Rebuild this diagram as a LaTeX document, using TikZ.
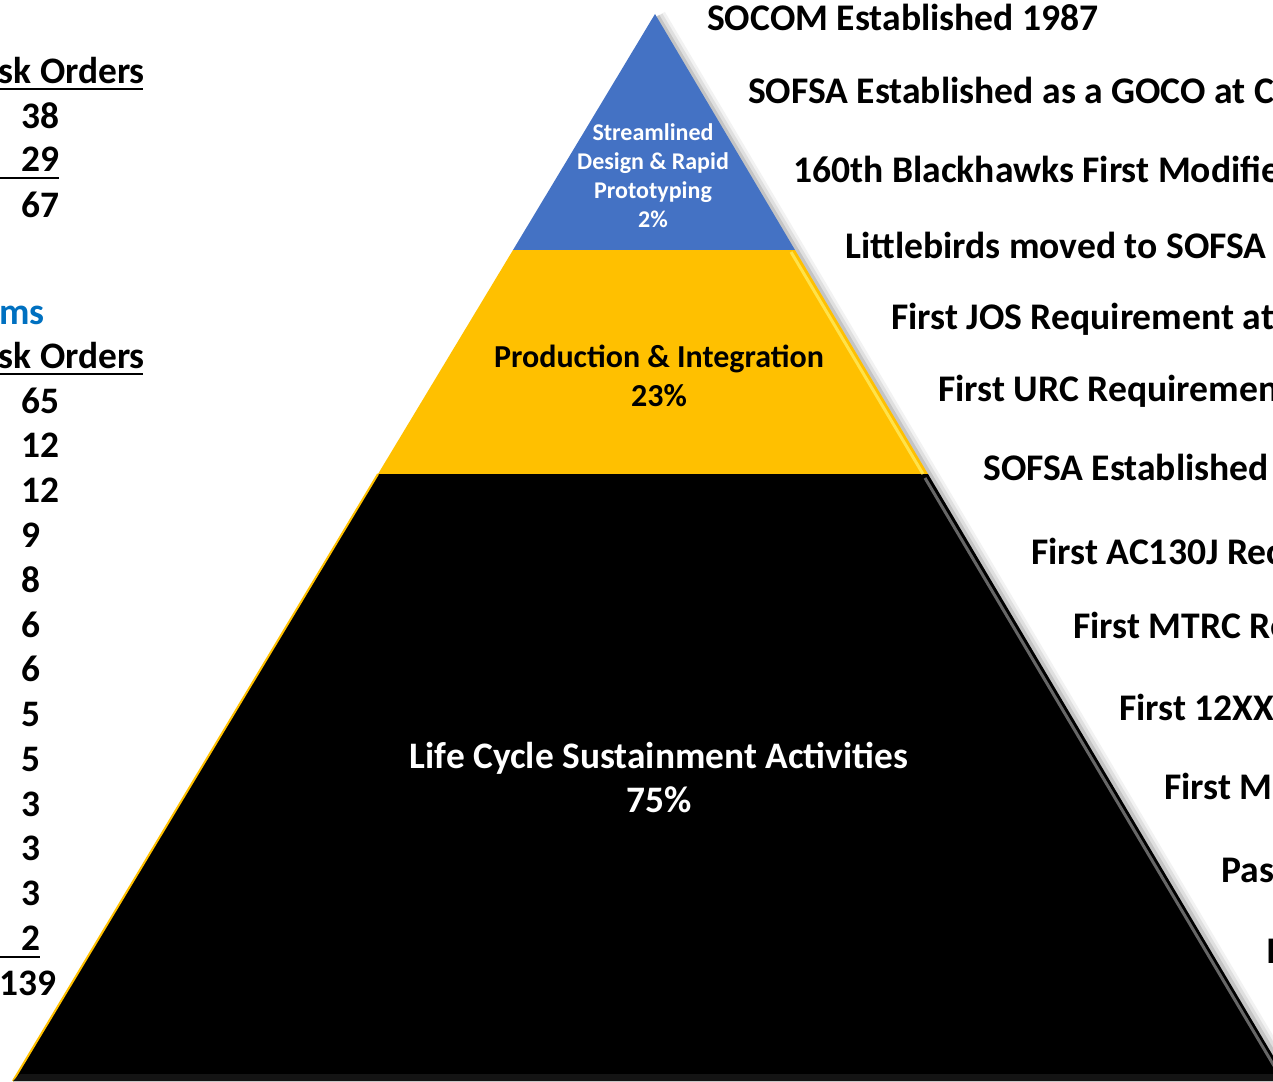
\documentclass[tikz,border=0pt]{standalone}
\usepackage{fontspec}
\setmainfont{Carlito}
\usepackage{tikz}
\definecolor{tierblue}{HTML}{4472C4}
\definecolor{tieryellow}{HTML}{FFC000}
\definecolor{sheenyellow}{HTML}{FFE24A}
\definecolor{progblue}{HTML}{0070C0}

\begin{document}
\begin{tikzpicture}[x=1pt,y=-1pt,
    event/.style={anchor=base west,inner sep=0,font=\fontsize{37.6}{44}\selectfont\bfseries},
    count/.style={anchor=base west,inner sep=0,font=\fontsize{37.4}{44}\selectfont\bfseries},
    uline/.style={line width=2.4pt}]
        \useasboundingbox (0,0) rectangle (1273,1081);
        \clip (0,0) rectangle (1273,1081);
        % soft shadow on the right flank
        \draw[line width=16pt,black,opacity=0.05](658,16)--(1292,1083);
        \draw[line width=10pt,black,opacity=0.08](658,16)--(1292,1083);
        \draw[line width=5pt,black,opacity=0.12](657,16)--(1291,1083);
        % the three tiers
        \fill[tierblue](655,14)--(795,250)--(513,250)--cycle;
        \fill[tieryellow](513,250)--(795,250)--(928,474)--(378,474)--cycle;
        \fill[black](378,474)--(928,474)--(1288,1081)--(13,1081)--cycle;
        \draw[line width=3pt,sheenyellow](791,252)--(923,474);
        \draw[line width=3pt,black!60](925,478)--(1283,1081);
        \draw[line width=2pt,tieryellow](378,474)--(13,1081);
        \fill[black!92](20,1074)--(1283,1074)--(1288,1081)--(13,1081)--cycle;
        % tier labels
        \node[align=center,text=white,font=\fontsize{24}{29}\selectfont\bfseries] (design) at (653,176) {Streamlined\\Design \& Rapid\\Prototyping\\2\%};
        \node[align=center,font=\fontsize{32}{39}\selectfont\bfseries] (prod) at (659,376) {Production \& Integration\\23\%};
        \node[align=center,text=white,font=\fontsize{37.4}{44}\selectfont\bfseries] (life) at (659,777) {Life Cycle Sustainment Activities\\75\%};
        % milestones on the right
        \node[event] (m1) at (707,31) {SOCOM Established 1987};
        \node[event] (m2) at (748,103) {SOFSA Established as a GOCO at C};
        \node[event] (m3) at (793,182) {160th Blackhawks First Modifie};
        \node[event] (m4) at (845,258) {Littlebirds moved to SOFSA};
        \node[event] (m5) at (891,329) {First JOS Requirement at};
        \node[event] (m6) at (938,401) {First URC Requiremen};
        \node[event] (m7) at (983,480) {SOFSA Established};
        \node[event] (m8) at (1031,564) {First AC130J Rec};
        \node[event] (m9) at (1073,638) {First MTRC Re};
        \node[event] (m10) at (1119,720) {First 12XX};
        \node[event] (m11) at (1164,799) {First M};
        \node[event] (m12) at (1221,882) {Pas};
        \node[event] (m13) at (1266,963) {I};
        % task order counts on the left
        \node[count,anchor=base east] (head1) at (145,83) {sk Orders};
        \draw[uline](0,89)--(143,89);
        \node[count] (a1) at (21,128) {38};
        \node[count] (a2) at (21,171) {29};
        \draw[uline](0,178)--(59,178);
        \node[count] (a3) at (21,217) {67};
        \node[count,text=progblue] (prog) at (-1,324) {ms};
        \node[count,anchor=base east] (head2) at (145,368) {sk Orders};
        \draw[uline](0,374)--(143,374);
        \node[count] (b1) at (21,413) {65};
        \node[count] (b2) at (21,457) {12};
        \node[count] (b3) at (21,502) {12};
        \node[count] (b4) at (21,547) {9};
        \node[count] (b5) at (21,592) {8};
        \node[count] (b6) at (21,637) {6};
        \node[count] (b7) at (21,681) {6};
        \node[count] (b8) at (21,726) {5};
        \node[count] (b9) at (21,771) {5};
        \node[count] (b10) at (21,816) {3};
        \node[count] (b11) at (21,860) {3};
        \node[count] (b12) at (21,905) {3};
        \node[count] (b13) at (21,950) {2};
        \draw[uline](0,957)--(40,957);
        \node[count] (b14) at (-1,995) {139};
    \end{tikzpicture}
\end{document}
